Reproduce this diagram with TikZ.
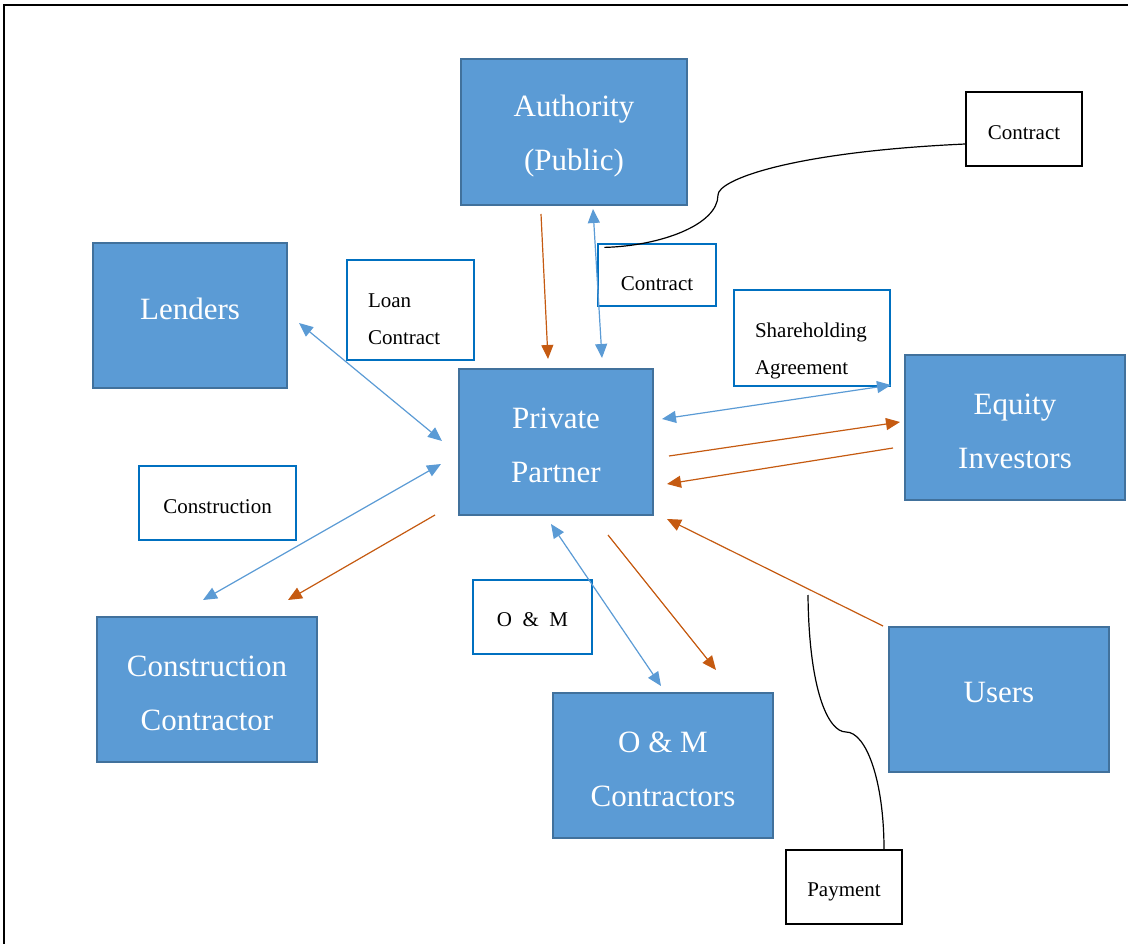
\documentclass[tikz,border=0pt]{standalone}
\usepackage{fontspec}
\setmainfont{Liberation Serif}
\usepackage{tikz}
\usetikzlibrary{arrows.meta}

\definecolor{boxblue}{HTML}{5B9BD5}
\definecolor{boxedge}{HTML}{41719C}
\definecolor{tagblue}{HTML}{0070C0}
\definecolor{cashorange}{HTML}{C55A11}
\newcommand{\padtop}[1]{\rule{0pt}{#1}}

\begin{document}
\begin{tikzpicture}[x=1pt,y=-1pt,
  party/.style={draw=boxedge,line width=2pt,fill=boxblue,text=white,align=center,
    inner sep=0pt,minimum width=220pt,minimum height=145pt,font=\fontsize{31}{54}\selectfont},
  tag/.style={draw=tagblue,line width=1.2pt,fill=white,inner sep=0pt,
    font=\fontsize{21}{36.5}\selectfont},
  note/.style={draw=black,line width=1.2pt,fill=white,inner sep=0pt,
    minimum width=116pt,minimum height=74pt,font=\fontsize{21}{36.5}\selectfont},
  flow/.style={cashorange,line width=1.2pt,-{Triangle[length=14pt,width=12pt]}},
  link/.style={boxblue,line width=1.2pt,{Triangle[length=14pt,width=12pt]}-{Triangle[length=14pt,width=12pt]}}]
  \useasboundingbox (0,0) rectangle (1128,944);
  %\draw[very thin,color=gray] (0,0) grid[step=100] (1128,944);
  \draw[line width=2pt] (4,944) -- (4,5) -- (1128,5);

  % parties
  \node[party,minimum width=226pt,minimum height=146pt] (auth) at (574,132) {\padtop{30.5pt}Authority\\(Public)};
  \node[party,minimum width=194pt,text height=8pt,text depth=0pt] (lenders) at (190,315.5) {Lenders};
  \node[party,minimum width=194pt,minimum height=146pt] (partner) at (556,442) {\padtop{27.5pt}Private\\Partner};
  \node[party] (equity) at (1015,427.5) {\padtop{27.5pt}Equity\\Investors};
  \node[party] (builder) at (207,689.5) {\padtop{28.5pt}Construction\\Contractor};
  \node[party] (operator) at (663,765.5) {\padtop{27.5pt}O \& M\\Contractors};
  \node[party,text height=6.5pt,text depth=0pt] (users) at (999,699.5) {Users};

  % contract labels
  \node[tag,minimum width=127pt,minimum height=100pt,text width=85pt,align=left] (loan) at (410.5,310) {\padtop{32pt}Loan\\Contract};
  \node[tag,minimum width=118pt,minimum height=62pt,text height=31pt,text depth=0pt] (contract) at (657,275) {Contract};
  \node[tag,minimum width=156pt,minimum height=96pt,text width=114pt,align=left] (shares) at (812,338) {\padtop{40.5pt}Shareholding\\Agreement};
  \node[tag,minimum width=157pt,minimum height=74pt,text height=20.5pt,text depth=0pt] (build) at (217.5,503) {Construction};
  \node[tag,minimum width=119pt,minimum height=74pt,text height=19.5pt,text depth=0pt] (om) at (532.5,617) {O~~\&~~M};
  \node[note,text height=20.5pt,text depth=0pt] (contracttop) at (1024,129) {Contract};
  \node[note,text height=19.5pt,text depth=0pt] (payment) at (844,887) {Payment};
  \coordinate (paytail) at (808,595);

  % links and flows
  \draw[flow] ([shift={(-33,8)}]auth.south) -- ([shift={(-8,-9)}]partner.north);
  \draw[link] ([shift={(19,3)}]auth.south) -- ([shift={(46,-10)}]partner.north);
  \draw[link] ([shift={(11,7.5)}]lenders.east) -- ([shift={(-16,-1)}]partner.west);
  \draw[link] ([shift={(-17,22)}]partner.west) -- ([shift={(-4,-16)}]builder.north);
  \draw[flow] ([shift={(-23,-1)}]partner.south west) -- ([shift={(81,-16)}]builder.north);
  \draw[link] ([shift={(8,-23)}]partner.east) -- ([shift={(-13,-42.5)}]equity.west);
  \draw[flow] ([shift={(15,14)}]partner.east) -- ([shift={(-4,-5.5)}]equity.west);
  \draw[flow] ([shift={(-11,20.5)}]equity.west) -- ([shift={(13,42)}]partner.east);
  \draw[link] ([shift={(-5,8)}]partner.south) -- ([shift={(-2,-6)}]operator.north);
  \draw[flow] ([shift={(52,19)}]partner.south) -- ([shift={(53,-22)}]operator.north);
  \draw[flow] ([shift={(-5,0)}]users.north west) -- ([shift={(13,3)}]partner.south east);

  % callout lines
  \draw[line width=1.2pt] ([shift={(7,4)}]contract.north west) .. controls (660,246) and (718,225) .. (718,195)
    .. controls (718,180) and (790,152) .. ([shift={(0,15)}]contracttop.west);
  \draw[line width=1.2pt] (paytail) .. controls (809,690) and (828,732) .. (846,732)
    .. controls (866,732) and (884,780) .. ([shift={(40,0)}]payment.north);
\end{tikzpicture}
\end{document}
